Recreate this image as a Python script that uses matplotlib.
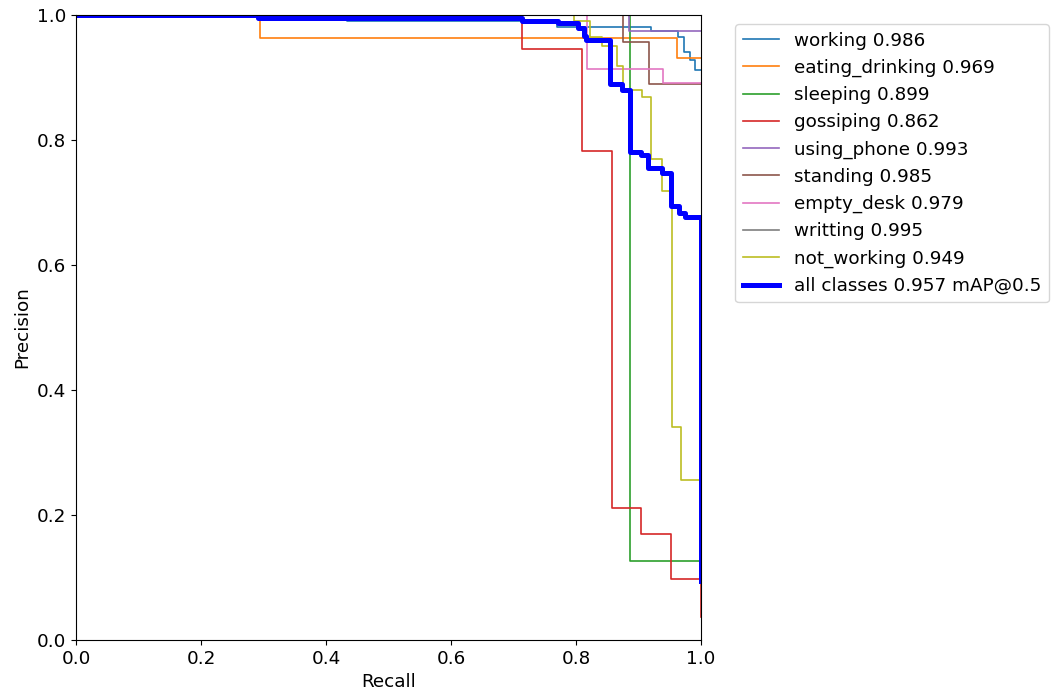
import matplotlib
matplotlib.use("Agg")
import matplotlib.pyplot as plt

# step curves: recall where precision changes, and the precision from there on
names = ["working", "eating_drinking", "sleeping", "gossiping", "using_phone",
         "standing", "empty_desk", "writting", "not_working"]
ap = [0.986, 0.969, 0.899, 0.862, 0.993, 0.985, 0.979, 0.995, 0.949]

rec = [
    [0.0, 0.434, 0.77, 0.92, 0.963, 0.973, 0.982, 0.99, 1.0],
    [0.0, 0.294, 0.962, 1.0],
    [0.0, 0.887, 1.0],
    [0.0, 0.714, 0.809, 0.857, 0.904, 0.952, 1.0],
    [0.0, 0.885, 1.0],
    [0.0, 0.875, 0.917, 1.0],
    [0.0, 0.818, 0.939, 1.0],
    [0.0, 1.0],
    [0.0, 0.797, 0.822, 0.841, 0.865, 0.875, 0.906, 0.92, 0.937, 0.953, 0.968, 1.0],
]
prec = [
    [1.0, 0.991, 0.981, 0.974, 0.965, 0.941, 0.928, 0.912, 0.912],
    [1.0, 0.964, 0.932, 0.932],
    [1.0, 0.126, 0.126],
    [1.0, 0.946, 0.783, 0.212, 0.169, 0.098, 0.037],
    [1.0, 0.974, 0.974],
    [1.0, 0.957, 0.89, 0.89],
    [1.0, 0.914, 0.892, 0.892],
    [1.0, 1.0],
    [1.0, 0.99, 0.965, 0.95, 0.918, 0.88, 0.869, 0.77, 0.719, 0.341, 0.256, 0.256],
]

all_rec = [0.0, 0.291, 0.434, 0.714, 0.771, 0.803, 0.813, 0.816, 0.854, 0.874,
           0.886, 0.904, 0.915, 0.937, 0.952, 0.965, 0.974, 1.0]
all_prec = [1.0, 0.996, 0.995, 0.991, 0.988, 0.979, 0.966, 0.96, 0.89, 0.88,
            0.781, 0.776, 0.755, 0.748, 0.694, 0.683, 0.677, 0.095]
map50 = 0.957

plt.rcParams['font.size'] = 13.2

fig = plt.figure(figsize=(10.54, 6.97), dpi=100)
ax = fig.add_axes([76/1054, 1 - 640/697, 625/1054, 625/697])

for i in range(len(names)):
    ax.plot(rec[i], prec[i], drawstyle='steps-post', linewidth=1.2,
            color='C%d' % i, label='%s %.3f' % (names[i], ap[i]))
ax.plot(all_rec, all_prec, drawstyle='steps-post', linewidth=3.6, color='blue',
        label='all classes %.3f mAP@0.5' % map50)

ax.set_xlabel('Recall')
ax.set_ylabel('Precision')
ax.set_xlim(0, 1)
ax.set_ylim(0, 1)
ax.legend(bbox_to_anchor=(1.04, 1), loc='upper left')

fig.savefig('out.png', dpi=100)
